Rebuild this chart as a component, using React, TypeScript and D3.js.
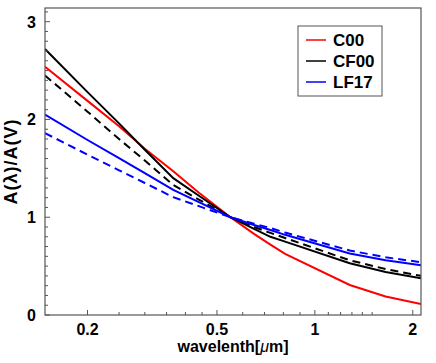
import React from "react";
import * as d3 from "d3";

const wavelengths = [0.148, 0.2, 0.25, 0.3, 0.367, 0.44, 0.55, 0.65, 0.73, 0.81, 1.28, 1.65, 2.12];

const c00 = [2.54, 2.19, 1.93, 1.7, 1.47, 1.25, 1.0, 0.83, 0.72, 0.625, 0.307, 0.19, 0.113];
const cf00 = [2.72, 2.28, 1.96, 1.69, 1.4, 1.22, 1.0, 0.88, 0.8, 0.75, 0.53, 0.44, 0.375];
const cf00Dashed = [2.45, 2.08, 1.8, 1.58, 1.33, 1.18, 1.0, 0.9, 0.84, 0.787, 0.56, 0.47, 0.4];
const lf17 = [2.05, 1.79, 1.605, 1.45, 1.28, 1.155, 1.0, 0.92, 0.87, 0.82, 0.63, 0.56, 0.51];
const lf17Dashed = [1.86, 1.64, 1.48, 1.35, 1.205, 1.113, 1.0, 0.934, 0.89, 0.843, 0.66, 0.59, 0.54];

const xMajor = [0.2, 0.5, 1, 2];
const xMinor = [0.25, 0.3, 0.35, 0.4, 0.45, 0.6, 0.7, 0.8, 0.9, 1.1, 1.2, 1.3, 1.4, 1.5];
const yMajor = [0, 1, 2, 3];

const legendNames = ["C00", "CF00", "LF17"];
const legendColors = ["#ff0000", "#000000", "#0000ff"];

const series = [
  { values: c00, color: "#ff0000", dash: null },
  { values: cf00, color: "#000000", dash: null },
  { values: cf00Dashed, color: "#000000", dash: "8,5" },
  { values: lf17, color: "#0000ff", dash: null },
  { values: lf17Dashed, color: "#0000ff", dash: "8,5" },
];

const W = 436, H = 363;
const margin = { top: 8, right: 15, bottom: 48, left: 45 };
const font = "'Liberation Sans', Arial, sans-serif";

export default function App() {
  const x = d3.scaleLog().domain([0.148, 2.12]).range([margin.left, W - margin.right]);
  const y = d3.scaleLinear().domain([0, 3.14]).range([H - margin.bottom, margin.top]);
  const yMinor = d3.range(0, 3.15, 0.1).filter(v => Math.abs(v - Math.round(v)) > 0.01);

  const line = d3
    .line<number>()
    .x((_, i) => x(wavelengths[i]))
    .y(d => y(d));

  const x0 = margin.left, x1 = W - margin.right;
  const y0 = H - margin.bottom, y1 = margin.top;
  const axisColor = "#555";

  return (
    <svg width={W} height={H} style={{ position: "absolute", left: 0, top: 0 }}>
      <rect x={0} y={0} width={W} height={H} fill="#fff" />
      <defs>
        <clipPath id="plot">
          <rect x={x0} y={y1} width={x1 - x0} height={y0 - y1} />
        </clipPath>
      </defs>

      <g clipPath="url(#plot)">
        {series.map((s, i) => (
          <path
            key={i}
            d={line(s.values) || ""}
            fill="none"
            stroke={s.color}
            strokeWidth={2}
            strokeDasharray={s.dash || undefined}
          />
        ))}
      </g>

      {/* frame */}
      <rect x={x0} y={y1} width={x1 - x0} height={y0 - y1} fill="none" stroke={axisColor} strokeWidth={1.2} />

      {/* x ticks */}
      {xMajor.map(v => (
        <g key={"xM" + v}>
          <line x1={x(v)} x2={x(v)} y1={y0} y2={y0 - 5} stroke={axisColor} />
          <text x={x(v)} y={y0 + 20} textAnchor="middle" fontFamily={font} fontWeight="bold" fontSize={16}>
            {v}
          </text>
        </g>
      ))}
      {xMinor.map(v => (
        <line key={"xm" + v} x1={x(v)} x2={x(v)} y1={y0} y2={y0 - 3} stroke={axisColor} />
      ))}

      {/* y ticks */}
      {yMajor.map(v => (
        <g key={"yM" + v}>
          <line x1={x0} x2={x0 + 5} y1={y(v)} y2={y(v)} stroke={axisColor} />
          <text x={x0 - 9} y={y(v) + 6} textAnchor="end" fontFamily={font} fontWeight="bold" fontSize={16}>
            {v}
          </text>
        </g>
      ))}
      {yMinor.map(v => (
        <line key={"ym" + v} x1={x0} x2={x0 + 3} y1={y(v)} y2={y(v)} stroke={axisColor} />
      ))}

      {/* axis titles */}
      <text x={(x0 + x1) / 2} y={352} textAnchor="middle" fontFamily={font} fontWeight="bold" fontSize={16}>
        wavelenth[<tspan fontStyle="italic" fontWeight="normal">μ</tspan>m]
      </text>
      <text
        transform={`translate(17,${(y0 + y1) / 2}) rotate(-90)`}
        textAnchor="middle"
        fontFamily={font}
        fontWeight="bold"
        fontSize={18}
        letterSpacing={1}
      >
        A(λ)/A(V)
      </text>

      {/* legend */}
      <rect x={298} y={26} width={84} height={70} fill="#fff" stroke={axisColor} strokeWidth={1} />
      {legendNames.map((n, i) => (
        <g key={n}>
          <line x1={306} x2={326} y1={40 + i * 21} y2={40 + i * 21} stroke={legendColors[i]} strokeWidth={1.5} />
          <text x={333} y={46 + i * 21} fontFamily={font} fontWeight="bold" fontSize={17}>
            {n}
          </text>
        </g>
      ))}
    </svg>
  );
}
